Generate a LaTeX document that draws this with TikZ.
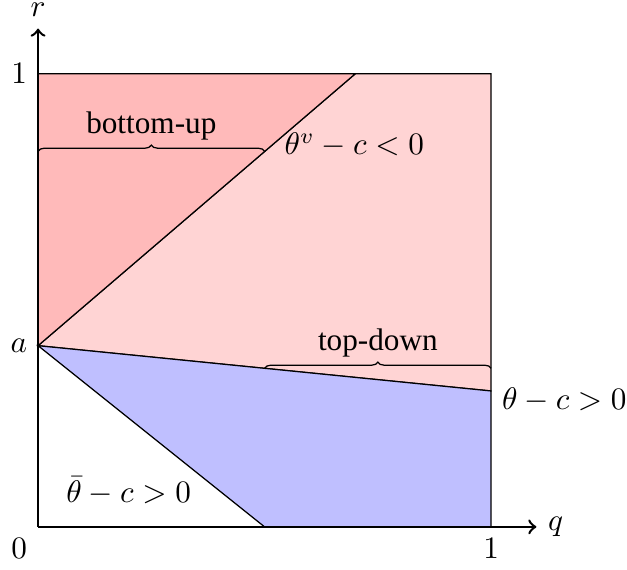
\documentclass[tikz,border=0pt]{standalone}
\usepackage[no-math]{fontspec}
\setmainfont{Liberation Serif}
\usetikzlibrary{decorations.pathreplacing}
\begin{document}
\begin{tikzpicture}[x=5.1cm,y=5.1cm]
\useasboundingbox (-0.084,-0.093) rectangle (1.300,1.163);
\draw[fill=red!17] (0,0.4) -- (0.7,1) -- (1,1) -- (1,0.3) -- cycle;
\draw[fill=red!27] (0,0.4) -- (0,1) -- (0.7,1) -- cycle;
\draw[fill=blue!25] (0,0.4) -- (1,0.3) -- (1,0) -- (0.5,0) -- cycle;
\draw[thick,->] (0,0) -- (1.1,0) node[right] (q) {$q$};
\draw[thick,->] (0,0) -- (0,1.1) node[above] (r) {$r$};
\node[below left] (zero) at (0,0) {$0$};
\node[below] (qone) at (1,0) {$1$};
\node[left] (rone) at (0,1) {$1$};
\node[left] (a) at (0,0.4) {$a$};
\draw[decorate,decoration={brace,amplitude=2pt}] (0,0.829) -- (0.5,0.829)
  node[midway,above=0pt] (bu) {bottom-up};
\draw[decorate,decoration={brace,amplitude=2pt}] (0.5,0.35) -- (1,0.35)
  node[midway,above=0pt] (td) {top-down};
\node[right] (thv) at (0.52,0.843) {$\theta^v-c<0$};
\node[right] (th) at (1,0.28) {$\theta-c>0$};
\node (thbar) at (0.2,0.08) {$\bar\theta-c>0$};
\end{tikzpicture}
\end{document}
